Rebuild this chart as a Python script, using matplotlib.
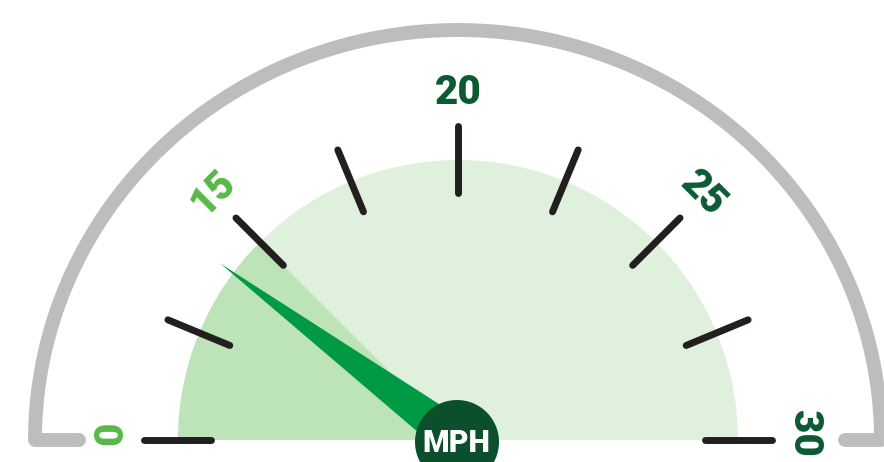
import matplotlib
matplotlib.use("Agg")
import matplotlib.pyplot as plt
import numpy as np
from matplotlib.patches import Wedge, Circle, Polygon

# gauge data
tick_values = [0, 7.5, 15, 17.5, 20, 22.5, 25, 27.5, 30]
label_values = [0, 15, 20, 25, 30]
speed = 12.2      # needle
limit = 15        # shaded sector
unit = "MPH"

# colours
GRAY = "#bdbdbd"
LIGHT = "#dff0dc"
SHADE = "#bde3b9"
NEEDLE = "#009a44"
DARK = "#0b4f2c"
LBL_LOW = "#57b947"
LBL_HIGH = "#0b5a32"
TICK = "#231f20"

W, H = 884, 462
cx, cy = 458, 22          # gauge centre (pixel units, y up)

tick_angles = np.linspace(180, 0, len(tick_values))


def val2ang(v):
    return np.interp(v, tick_values, tick_angles)


def polar(r, a):
    t = np.radians(a)
    return cx + r * np.cos(t), cy + r * np.sin(t)


fig = plt.figure(figsize=(W / 100, H / 100), dpi=100)
ax = fig.add_axes([0, 0, 1, 1])
ax.set_xlim(0, W)
ax.set_ylim(0, H)
ax.axis("off")

# outer grey rim with inward feet
rx, ry = 423, 410
t = np.linspace(np.pi, 0, 300)
xs = np.concatenate([[cx - rx + 44], cx + rx * np.cos(t), [cx + rx - 36]])
ys = np.concatenate([[cy], cy + ry * np.sin(t), [cy]])
ax.plot(xs, ys, color=GRAY, lw=10, solid_capstyle="round",
        solid_joinstyle="round", zorder=1)

# background semicircle and shaded sector
ax.add_patch(Wedge((cx, cy), 280, 0, 180, color=LIGHT, lw=0, zorder=2))
ax.add_patch(Wedge((cx, cy), 280, val2ang(limit), 180, color=SHADE, lw=0,
                   zorder=3))

# ticks
for v in tick_values:
    a = val2ang(v)
    x0, y0 = polar(247, a)
    x1, y1 = polar(314, a)
    ax.plot([x0, x1], [y0, y1], color=TICK, lw=5, solid_capstyle="round",
            zorder=4)

# labels (end labels nudged up a little so they sit inside the frame)
for v in label_values:
    a = val2ang(v)
    x, y = polar(347, a)
    y += 7 * abs(np.cos(np.radians(a))) ** 4
    ax.text(x, y, f"{v:g}", rotation=a - 90, rotation_mode="anchor",
            ha="center", va="center", fontsize=29, fontweight="heavy",
            family="Roboto",
            color=LBL_LOW if v <= limit else LBL_HIGH, zorder=5)

# needle
a = np.radians(val2ang(speed))
tip = polar(296, np.degrees(a))
nx, ny = -np.sin(a), np.cos(a)
hw = 20
needle = Polygon([tip, (cx + nx * hw, cy + ny * hw), (cx - nx * hw, cy - ny * hw)],
                 closed=True, color=NEEDLE, lw=0, zorder=6)
ax.add_patch(needle)

# hub
ax.add_patch(Circle((cx - 1, cy - 2), 42, color=DARK, lw=0, zorder=7))
ax.text(cx - 2, cy - 3, unit, ha="center", va="center", fontsize=22,
        fontweight="heavy", family="Roboto", color="white", zorder=8)

fig.savefig("out.png", dpi=100)
